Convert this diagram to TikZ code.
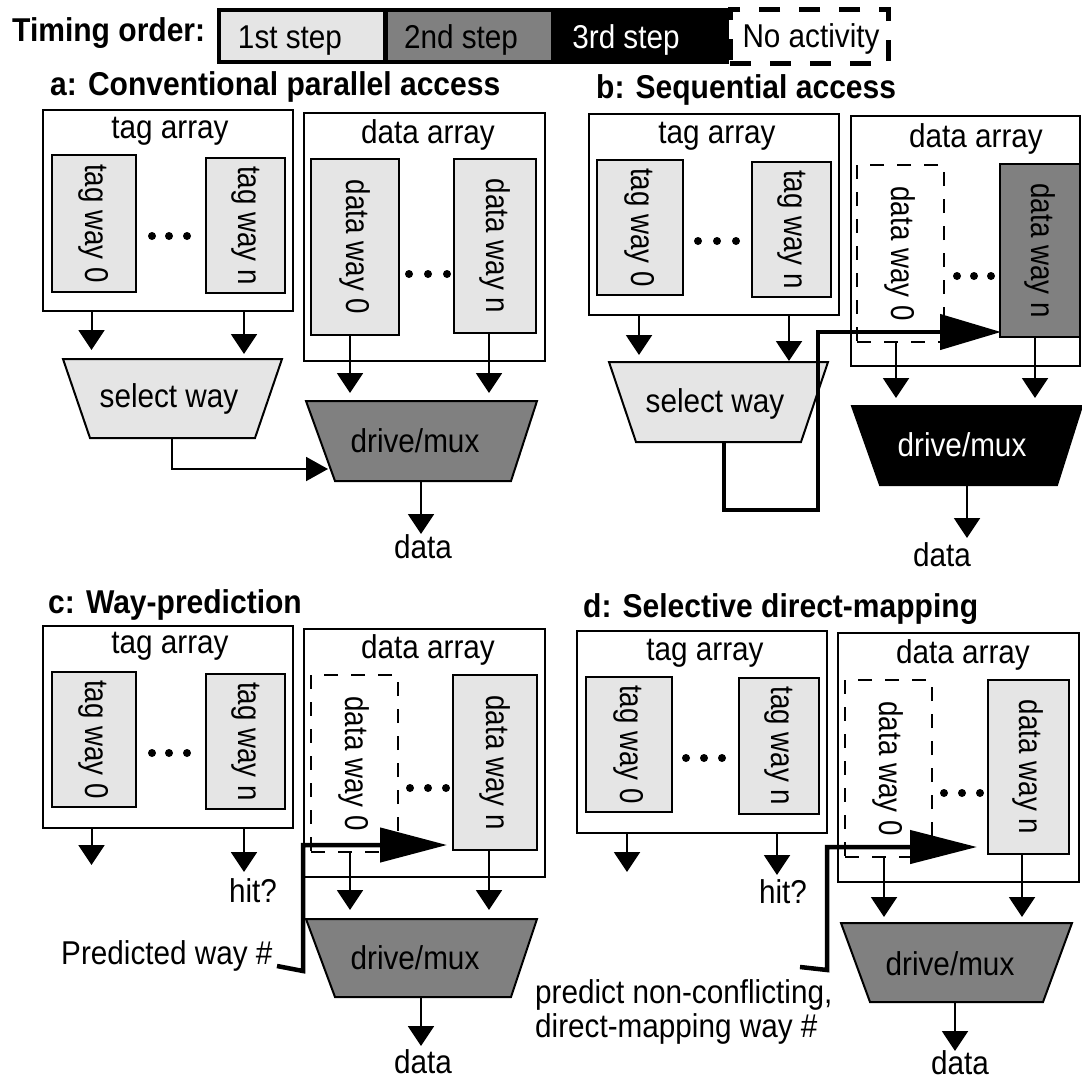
\documentclass[tikz,border=0pt]{standalone}
\usepackage{fontspec}
\setmainfont{Liberation Sans}
\newfontfamily\rfont[FakeStretch=0.90]{Liberation Sans}
\newfontfamily\rotfont[FakeStretch=0.84]{Liberation Sans}
\newfontfamily\bfont[FakeStretch=0.91]{Liberation Sans Bold}
\usetikzlibrary{arrows.meta}
\definecolor{lgray}{RGB}{229,229,229}
\definecolor{mgray}{RGB}{128,128,128}
\newcommand\bx[7]{\node[#6,minimum width={(#4-#2)*1pt},minimum height={(#5-#3)*1pt}] (#1) at ({(#2+#4)/2},{(#3+#5)/2}) {#7};}
\newcommand\lnk[4]{\coordinate (#1-s) at (#2); \coordinate (#1-e) at (#3); \draw[#4] (#1-s) -- (#1-e);}
\newcommand\threedots[4]{\foreach \xx in {#1,#2,#3} {\fill (\xx,#4) circle (4pt);}}
\tikzset{
 lbl/.style={font=\rfont\fontsize{33}{36}\selectfont, inner sep=0pt, anchor=base},
 rlbl/.style={font=\rotfont\fontsize{33}{36}\selectfont, inner sep=0pt, rotate=-90},
 ttl/.style={font=\bfont\fontsize{33}{36}\selectfont, inner sep=0pt, anchor=base west},
 frame/.style={draw, line width=2pt, fill=white, inner sep=0pt},
 wayl/.style={frame, fill=lgray},
 wayd/.style={frame, fill=mgray},
 wayn/.style={draw, line width=2pt, dash pattern=on 14pt off 13pt, inner sep=0pt},
 arr/.style={line width=2pt, -{Triangle[length=20pt,width=26pt]}},
 arrs/.style={line width=2pt, -{Triangle[length=22pt,width=24pt]}},
 thk/.style={line width=4.5pt, line join=miter, -{Triangle[length=64pt,width=34pt]}},
 trap/.style={draw, line width=2pt, line join=miter},
}
\begin{document}
\begin{tikzpicture}[x=1pt,y=-1pt]
\fill[white] (0,0) rectangle (1082,1082);
\useasboundingbox (0,0) rectangle (1082,1082);
% ---------------- legend
\node[ttl] (timing) at (12,41) {Timing order:};
\bx{legbg}{217}{8}{729}{64}{fill=black,inner sep=0pt}{}
\bx{leg1}{221}{12}{383}{60}{fill=lgray,inner sep=0pt}{}
\bx{leg2}{388}{12}{551}{60}{fill=mgray,inner sep=0pt}{}
\node[lbl] (leg1t) at (290,48) {1st step};
\node[lbl] (leg2t) at (461,48) {2nd step};
\node[lbl,text=white] (leg3t) at (626,48) {3rd step};
\bx{leg4}{730}{9}{888}{63}{draw,fill=white,line width=5pt,dash pattern=on 21pt off 19pt,inner sep=0pt}{}
\node[lbl] (leg4t) at (811,47) {No activity};
% ---------------- panel a
\node[ttl] (tA) at (50,95) {a: Conventional parallel access};
\bx{tagA}{43}{110}{293}{311}{frame}{}
\node[lbl] (tagAt) at (170,138) {tag array};
\bx{tw0A}{52}{155}{136}{292}{wayl}{}
\node[rlbl] (tw0At) at (tw0A) {tag way 0};
\bx{twnA}{206}{158}{285}{293}{wayl}{}
\node[rlbl] (twnAt) at (twnA) {tag way n};
\threedots{152}{169}{187}{236}
\bx{dataA}{304}{113}{545}{361}{frame}{}
\node[lbl] (dataAt) at (428,143) {data array};
\bx{dw0A}{311}{159}{399}{335}{wayl}{}
\node[rlbl] (dw0At) at (dw0A) {data way 0};
\bx{dwnA}{454}{159}{536}{333}{wayl}{}
\node[rlbl] (dwnAt) at (dwnA) {data way n};
\threedots{409}{428}{447}{274}
\draw[trap,fill=lgray] (63,359) -- (282,359) -- (255,438) -- (90,438) -- cycle;
\node[lbl] (selAt) at (169,407) {select way};
\draw[trap,fill=mgray] (306,401) -- (537,401) -- (511,481) -- (335,481) -- cycle;
\node[lbl] (drvAt) at (415,452) {drive/mux};
\lnk{aA1}{91.5,311}{91.5,350}{arr}
\lnk{aA2}{244,311}{244,354}{arr}
\lnk{aA3}{350,335}{350,393}{arr}
\lnk{aA4}{489,333}{489,393}{arr}
\coordinate (selAo) at (172,438);
\coordinate (selAc) at (172,469);
\coordinate (drvAi) at (328,469);
\draw[arrs] (selAo) -- (selAc) -- (drvAi);
\lnk{aA5}{421,481}{421,534}{arr}
\node[lbl] (dataAo) at (423,558) {data};
% ---------------- panel b
\node[ttl] (tB) at (596,98) {b: Sequential access};
\bx{tagB}{589}{114}{839}{315}{frame}{}
\node[lbl] (tagBt) at (717,143) {tag array};
\bx{tw0B}{597}{160}{683}{295}{wayl}{}
\node[rlbl] (tw0Bt) at (tw0B) {tag way 0};
\bx{twnB}{752}{162}{831}{297}{wayl}{}
\node[rlbl] (twnBt) at (twnB) {tag way n};
\threedots{698}{717}{736}{241}
\bx{dataB}{851}{116}{1080}{366}{frame}{}
\node[lbl] (dataBt) at (976,147) {data array};
\bx{dw0B}{857}{165}{944}{342}{wayn}{}
\node[rlbl] (dw0Bt) at (dw0B) {data way 0};
\bx{dwnB}{1000}{164}{1080}{337}{wayd}{}
\node[rlbl] (dwnBt) at (dwnB) {data way n};
\threedots{957}{974}{991}{276}
\draw[trap,fill=lgray] (609,362) -- (828,362) -- (801,442) -- (636,442) -- cycle;
\node[lbl] (selBt) at (715,412) {select way};
\draw[trap,fill=black] (852,406) -- (1082,406) -- (1057,485) -- (880,485) -- cycle;
\node[lbl,text=white] (drvBt) at (962,456) {drive/mux};
\lnk{aB1}{639,315}{639,355}{arr}
\lnk{aB2}{789,315}{789,361}{arr}
\lnk{aB3}{896,342}{896,398}{arr}
\lnk{aB4}{1035,337}{1035,398}{arr}
\coordinate (selBo) at (724,442);
\coordinate (selBc1) at (724,510);
\coordinate (selBc2) at (818,510);
\coordinate (selBc3) at (818,332);
\coordinate (dwnBi) at (1001,332);
\draw[thk,-{Triangle[length=61pt,width=35pt]}] (selBo) -- (selBc1) -- (selBc2) -- (selBc3) -- (dwnBi);
\lnk{aB5}{967,485}{967,538}{arr}
\node[lbl] (dataBo) at (942,566) {data};
% ---------------- panel c
\node[ttl] (tC) at (48,613) {c: Way-prediction};
\bx{tagC}{43}{626}{293}{828}{frame}{}
\node[lbl] (tagCt) at (170,653) {tag array};
\bx{tw0C}{52}{672}{136}{807}{wayl}{}
\node[rlbl] (tw0Ct) at (tw0C) {tag way 0};
\bx{twnC}{206}{674}{285}{809}{wayl}{}
\node[rlbl] (twnCt) at (twnC) {tag way n};
\threedots{152}{169}{187}{753}
\lnk{aC1}{91.5,828}{91.5,865}{arr}
\lnk{aC2}{244,828}{244,872}{arr}
\node[lbl] (hitC) at (253,902) {hit?};
\bx{dataC}{304}{629}{545}{877}{frame}{}
\node[lbl] (dataCt) at (428,658) {data array};
\bx{dw0C}{311}{675}{398}{852}{wayn}{}
\node[rlbl] (dw0Ct) at (dw0C) {data way 0};
\bx{dwnC}{453}{675}{537}{850}{wayl}{}
\node[rlbl] (dwnCt) at (dwnC) {data way n};
\threedots{410}{428}{446}{788}
\draw[trap,fill=mgray] (306,919) -- (537,919) -- (511,997) -- (335,997) -- cycle;
\node[lbl] (drvCt) at (415,969) {drive/mux};
\lnk{aC3}{350,852}{350,910}{arr}
\lnk{aC4}{489,850}{489,910}{arr}
\node[lbl,anchor=base west] (predC) at (61,964) {Predicted way \#};
\coordinate (predCs) at (277,966);
\coordinate (predCc1) at (303,971);
\coordinate (predCc2) at (303,845);
\coordinate (predCe) at (447,845);
\draw[thk,-{Triangle[length=67pt,width=34pt]}] (predCs) -- (predCc1) -- (predCc2) -- (predCe);
\lnk{aC5}{421,997}{421,1046}{arr}
\node[lbl] (dataCo) at (423,1073) {data};
% ---------------- panel d
\node[ttl] (tD) at (583,617) {d: Selective direct-mapping};
\bx{tagD}{577}{631}{827}{833}{frame}{}
\node[lbl] (tagDt) at (705,660) {tag array};
\bx{tw0D}{586}{677}{672}{812}{wayl}{}
\node[rlbl] (tw0Dt) at (tw0D) {tag way 0};
\bx{twnD}{739}{678}{819}{814}{wayl}{}
\node[rlbl] (twnDt) at (twnD) {tag way n};
\threedots{686}{704}{722}{758}
\lnk{aD1}{627,833}{627,872}{arr}
\lnk{aD2}{777,833}{777,875}{arr}
\node[lbl] (hitD) at (783,903) {hit?};
\bx{dataD}{838}{633}{1079}{882}{frame}{}
\node[lbl] (dataDt) at (963,663) {data array};
\bx{dw0D}{845}{680}{932}{857}{wayn}{}
\node[rlbl] (dw0Dt) at (dw0D) {data way 0};
\bx{dwnD}{988}{680}{1069}{854}{wayl}{}
\node[rlbl] (dwnDt) at (dwnD) {data way n};
\threedots{944}{962}{980}{793}
\draw[trap,fill=mgray] (841,923) -- (1072,923) -- (1043,1002) -- (870,1002) -- cycle;
\node[lbl] (drvDt) at (950,975) {drive/mux};
\lnk{aD3}{884,857}{884,917}{arr}
\lnk{aD4}{1022,854}{1022,917}{arr}
\node[lbl,anchor=base west] (predD1) at (535,1003) {predict non-conflicting,};
\node[lbl,anchor=base west] (predD2) at (535,1037) {direct-mapping way \#};
\coordinate (predDs) at (800,967);
\coordinate (predDc1) at (827,970);
\coordinate (predDc2) at (827,847);
\coordinate (predDe) at (977,847);
\draw[thk,-{Triangle[length=67pt,width=33pt]}] (predDs) -- (predDc1) -- (predDc2) -- (predDe);
\lnk{aD5}{955,1002}{955,1051}{arr}
\node[lbl] (dataDo) at (960,1074) {data};
\end{tikzpicture}
\end{document}
